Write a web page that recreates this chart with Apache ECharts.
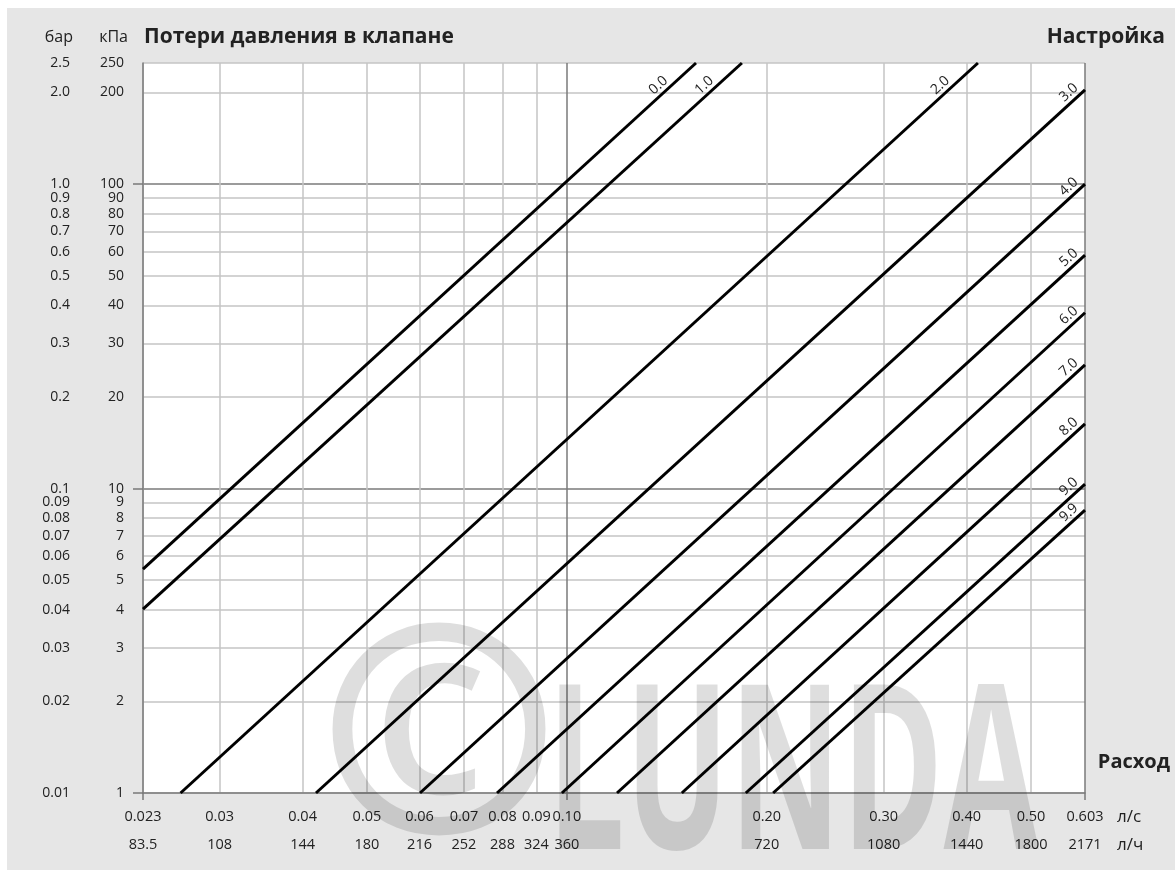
<!DOCTYPE html>
<html>
<head>
<meta charset="utf-8">
<title>Потери давления в клапане</title>
<script src="https://cdn.jsdelivr.net/npm/echarts@6/dist/echarts.min.js"></script>
<style>
  html, body { margin: 0; padding: 0; background: #fff; }
  #chart { position: absolute; left: 7px; top: 8px; width: 1168px; height: 862px; background: #e6e6e6; }
</style>
</head>
<body>
<div id="chart"></div>
<script>
// расход, л/с — отметки оси и подписи
var flowTicks = [0.023, 0.03, 0.04, 0.05, 0.06, 0.07, 0.08, 0.09, 0.10, 0.20, 0.30, 0.40, 0.50, 0.603];
var flowLsLabels = ['0.023', '0.03', '0.04', '0.05', '0.06', '0.07', '0.08', '0.09', '0.10', '0.20', '0.30', '0.40', '0.50', '0.603'];
var flowLhLabels = ['83.5', '108', '144', '180', '216', '252', '288', '324', '360', '720', '1080', '1440', '1800', '2171'];
var flowMajor = [0.023, 0.10, 0.603];

// потери давления, кПа / бар
var pressureTicks = [1, 2, 3, 4, 5, 6, 7, 8, 9, 10, 20, 30, 40, 50, 60, 70, 80, 90, 100, 200, 250];
var kpaLabels = ['1', '2', '3', '4', '5', '6', '7', '8', '9', '10', '20', '30', '40', '50', '60', '70', '80', '90', '100', '200', '250'];
var barLabels = ['0.01', '0.02', '0.03', '0.04', '0.05', '0.06', '0.07', '0.08', '0.09', '0.1', '0.2', '0.3', '0.4', '0.5', '0.6', '0.7', '0.8', '0.9', '1.0', '2.0', '2.5'];
var pressureMajor = [1, 10, 100];

// настройки клапана: начало и конец каждой прямой [л/с, кПа]
var settings = ['0.0', '1.0', '2.0', '3.0', '4.0', '5.0', '6.0', '7.0', '8.0', '9.0', '9.9'];
var lineStart = [[0.023, 5.44], [0.023, 4.02], [0.0262, 1], [0.0419, 1], [0.0601, 1], [0.0785, 1], [0.0983, 1], [0.119, 1], [0.149, 1], [0.186, 1], [0.2045, 1]];
var lineEnd = [[0.1565, 250], [0.1835, 250], [0.416, 250], [0.603, 204], [0.603, 100], [0.603, 58.5], [0.603, 37.8], [0.603, 25.5], [0.603, 16.3], [0.603, 10.35], [0.603, 8.5]];

var FONT = '"Open Sans", sans-serif';

function nearestIndex(ticks, v) {
  var best = 0, bd = Infinity;
  for (var i = 0; i < ticks.length; i++) {
    var d = Math.abs(Math.log(ticks[i]) - Math.log(v));
    if (d < bd) { bd = d; best = i; }
  }
  return best;
}

function gridColors(ticks, major, light, dark) {
  return ticks.map(function (t) { return major.indexOf(t) >= 0 ? dark : light; });
}

var myChart = echarts.init(document.getElementById('chart'));

var xBase = {
  type: 'log',
  logBase: 10,
  min: 0.023,
  max: 0.603,
  position: 'bottom',
  axisLine: { show: false, onZero: false },
  axisTick: { show: false, customValues: flowTicks },
  splitLine: { show: false },
  axisLabel: { show: false }
};
var yBase = {
  type: 'log',
  logBase: 10,
  min: 1,
  max: 250,
  position: 'left',
  axisLine: { show: false, onZero: false },
  axisTick: { show: false, customValues: pressureTicks },
  splitLine: { show: false },
  axisLabel: { show: false }
};

var series = settings.map(function (name, i) {
  var topEnd = lineEnd[i][1] >= 250;
  return {
    name: name,
    type: 'line',
    xAxisIndex: 0,
    yAxisIndex: 0,
    showSymbol: true,
    symbol: 'circle',
    symbolSize: 1,
    itemStyle: { color: 'rgba(0,0,0,0)' },
    lineStyle: { color: '#000', width: 3 },
    label: { show: false },
    animation: false,
    z: 3,
    data: [
      { value: lineStart[i] },
      {
        value: lineEnd[i],
        label: {
          show: true,
          formatter: name,
          position: 'inside',
          rotate: 42.5,
          align: 'right',
          verticalAlign: 'bottom',
          offset: topEnd ? [-33, -2] : [-4, -2],
          color: '#222',
          fontFamily: FONT,
          fontSize: 14
        }
      }
    ]
  };
});

var option = {
  animation: false,
  backgroundColor: 'transparent',
  grid: {
    left: 136,
    right: 90,
    top: 55,
    bottom: 77,
    show: true,
    backgroundColor: '#fff',
    borderWidth: 0
  },
  xAxis: [
    Object.assign({}, xBase, {
      axisLine: { show: true, onZero: false, lineStyle: { color: '#7a7a7a', width: 1.5 } },
      splitLine: {
        show: true,
        lineStyle: { width: 1.5, color: gridColors(flowTicks, [0.10, 0.603], '#c4c4c4', '#7a7a7a') }
      },
      axisLabel: {
        show: true,
        customValues: flowTicks,
        margin: 16,
        color: '#222',
        fontFamily: FONT,
        fontSize: 14.5,
        formatter: function (v) { return flowLsLabels[nearestIndex(flowTicks, v)]; }
      }
    }),
    Object.assign({}, xBase, {
      offset: 28,
      axisLabel: {
        show: true,
        customValues: flowTicks,
        margin: 16,
        color: '#222',
        fontFamily: FONT,
        fontSize: 14.5,
        formatter: function (v) { return flowLhLabels[nearestIndex(flowTicks, v)]; }
      }
    }),
    Object.assign({}, xBase, {
      axisTick: { show: true, customValues: flowMajor, length: 7, lineStyle: { color: '#7a7a7a', width: 1.5 } }
    })
  ],
  yAxis: [
    Object.assign({}, yBase, {
      axisLine: { show: true, onZero: false, lineStyle: { color: '#7a7a7a', width: 1.5 } },
      splitLine: {
        show: true,
        lineStyle: { width: 1.5, color: gridColors(pressureTicks, [10, 100], '#c4c4c4', '#7a7a7a') }
      },
      axisLabel: {
        show: true,
        customValues: pressureTicks,
        margin: 19,
        color: '#222',
        fontFamily: FONT,
        fontSize: 14,
        formatter: function (v) { return kpaLabels[nearestIndex(pressureTicks, v)]; }
      }
    }),
    Object.assign({}, yBase, {
      offset: 54,
      axisLabel: {
        show: true,
        customValues: pressureTicks,
        margin: 19,
        color: '#222',
        fontFamily: FONT,
        fontSize: 14,
        formatter: function (v) { return barLabels[nearestIndex(pressureTicks, v)]; }
      }
    }),
    Object.assign({}, yBase, {
      axisTick: { show: true, customValues: pressureMajor, length: 10, lineStyle: { color: '#7a7a7a', width: 1.5 } }
    })
  ],
  graphic: [
    { type: 'text', x: 432, y: 742, z: 1, silent: true,
      style: { text: '©', fill: 'rgba(0,0,0,0.13)', font: 'bold 290px ' + FONT, align: 'center', verticalAlign: 'middle' } },
    { type: 'text', x: 540, y: 775, z: 1, scaleX: 0.6, silent: true,
      style: { text: 'LUNDA', fill: 'rgba(0,0,0,0.13)', font: 'bold 230px ' + FONT, align: 'left', verticalAlign: 'middle' } },
    { type: 'text', x: 66, y: 29, style: { text: 'бар', fill: '#222', font: '16px ' + FONT, align: 'right', verticalAlign: 'middle' } },
    { type: 'text', x: 121, y: 29, style: { text: 'кПа', fill: '#222', font: '16px ' + FONT, align: 'right', verticalAlign: 'middle' } },
    { type: 'text', x: 137, y: 29, style: { text: 'Потери давления в клапане', fill: '#222', font: 'bold 21px ' + FONT, align: 'left', verticalAlign: 'middle' } },
    { type: 'text', x: 1158, y: 29, style: { text: 'Настройка', fill: '#222', font: 'bold 21px ' + FONT, align: 'right', verticalAlign: 'middle' } },
    { type: 'text', x: 1163, y: 754, style: { text: 'Расход', fill: '#222', font: 'bold 20px ' + FONT, align: 'right', verticalAlign: 'middle' } },
    { type: 'text', x: 1110, y: 809, style: { text: 'л/с', fill: '#222', font: '17px ' + FONT, align: 'left', verticalAlign: 'middle' } },
    { type: 'text', x: 1110, y: 837, style: { text: 'л/ч', fill: '#222', font: '17px ' + FONT, align: 'left', verticalAlign: 'middle' } }
  ],
  series: series
};

myChart.setOption(option);
window.onresize = function () {
  myChart.resize();
};
</script>
</body>
</html>
